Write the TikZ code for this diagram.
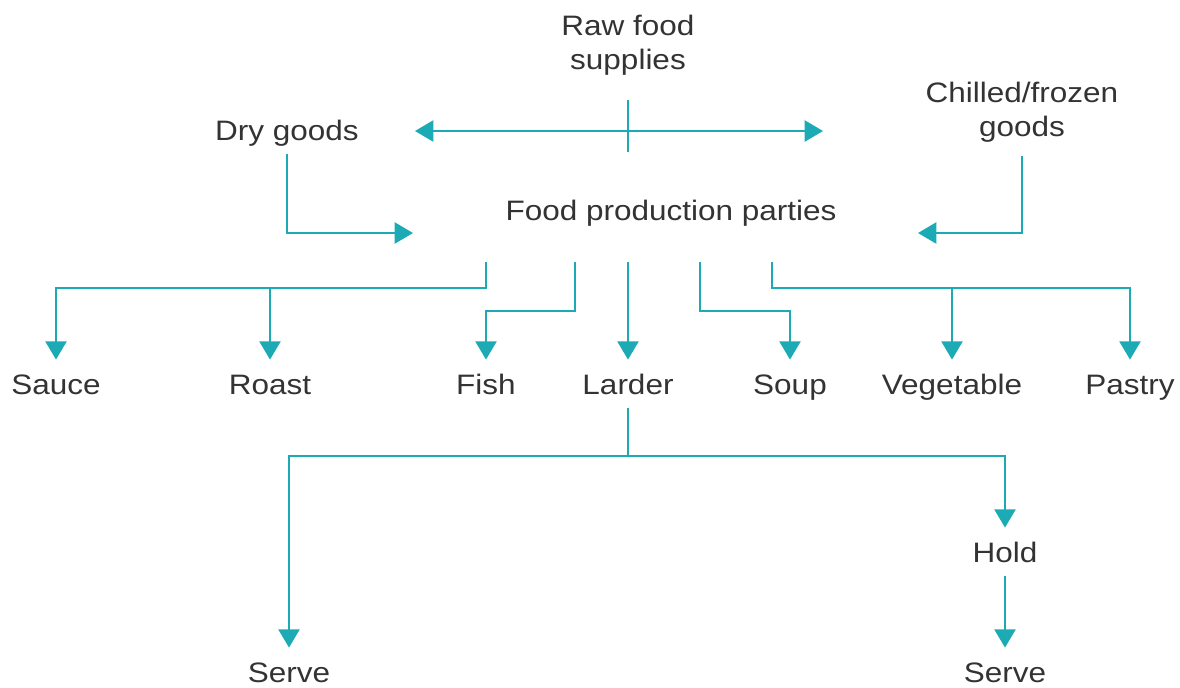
\documentclass[tikz,border=0pt]{standalone}
\usepackage{fontspec}
\setmainfont[FakeStretch=1.12]{Liberation Sans}
\usetikzlibrary{arrows.meta,positioning}
\definecolor{flowteal}{RGB}{28,170,180}
\definecolor{labelgray}{RGB}{51,51,51}
\tikzset{
  lbl/.style={font=\fontsize{20pt}{24.2pt}\selectfont,text=labelgray,text height=14.3pt,text depth=0pt,inner xsep=2pt,inner ysep=10pt},
  lbltwo/.style={font=\fontsize{20pt}{24.2pt}\selectfont,text=labelgray,align=center,inner xsep=2pt,inner ysep=10pt},
  link/.style={flowteal,line width=1.4pt},
  flow/.style={link,-{Triangle[width=15pt,length=13pt]}},
  twoway/.style={link,{Triangle[width=15pt,length=13pt]}-{Triangle[width=15pt,length=13pt]}},
}
\begin{document}
\begin{tikzpicture}[x=0.025cm,y=-0.025cm]
  \useasboundingbox (0,0) rectangle (1180,687);
  \node[lbltwo] (raw) at (628,45) {Raw food\\supplies};
  \node[lbl] (dry) at (287,130) {Dry goods};
  \node[lbltwo] (chill) at (1022,112) {Chilled/frozen\\goods};
  \node[lbl] (parties) at (671,210) {Food production parties};
  \node[lbl] (sauce) at (56,384) {Sauce};
  \node[lbl] (roast) at (270,384) {Roast};
  \node[lbl] (fish) at (486,384) {Fish};
  \node[lbl] (larder) at (628,384) {Larder};
  \node[lbl] (soup) at (790,384) {Soup};
  \node[lbl] (veg) at (952,384) {Vegetable};
  \node[lbl] (pastry) at (1130,384) {Pastry};
  \node[lbl] (hold) at (1005,552) {Hold};
  \node[lbl] (serveA) at (289,672) {Serve};
  \node[lbl] (serveB) at (1005,672) {Serve};
  \coordinate (tickTop) at (628,100);
  \coordinate (tickBot) at (628,152);
  \coordinate (toDry) at (415,131);
  \coordinate (toChill) at (823,131);
  \coordinate (dryIn) at (413,233);
  \coordinate (chillIn) at (918,233);
  \coordinate (p1) at (486,262);
  \coordinate (p2) at (575,262);
  \coordinate (p3) at (628,262);
  \coordinate (p4) at (700,262);
  \coordinate (p5) at (772,262);
  \coordinate (leftbar) at (486,288);
  \coordinate (fishbend) at (575,311);
  \coordinate (soupbend) at (700,311);
  \coordinate (rightbar) at (772,288);
  \coordinate (lsplit) at (628,456);
  \draw[link] (tickTop) -- (tickBot);
  \draw[twoway] (toDry) -- (toChill);
  \draw[flow] (dry.south) |- (dryIn);
  \draw[flow] (chill.south) |- (chillIn);
  \draw[flow] (p1) -- (leftbar) -| (sauce);
  \draw[flow] (roast |- leftbar) -- (roast);
  \draw[flow] (p2) -- (fishbend) -| (fish);
  \draw[flow] (p3) -- (larder);
  \draw[flow] (p4) -- (soupbend) -| (soup);
  \draw[flow] (p5) -- (rightbar) -| (pastry);
  \draw[flow] (veg |- rightbar) -- (veg);
  \draw[link] (larder) -- (lsplit);
  \draw[flow] (lsplit) -| (serveA);
  \draw[flow] (lsplit) -| (hold);
  \draw[flow] (hold) -- (serveB);
\end{tikzpicture}
\end{document}
